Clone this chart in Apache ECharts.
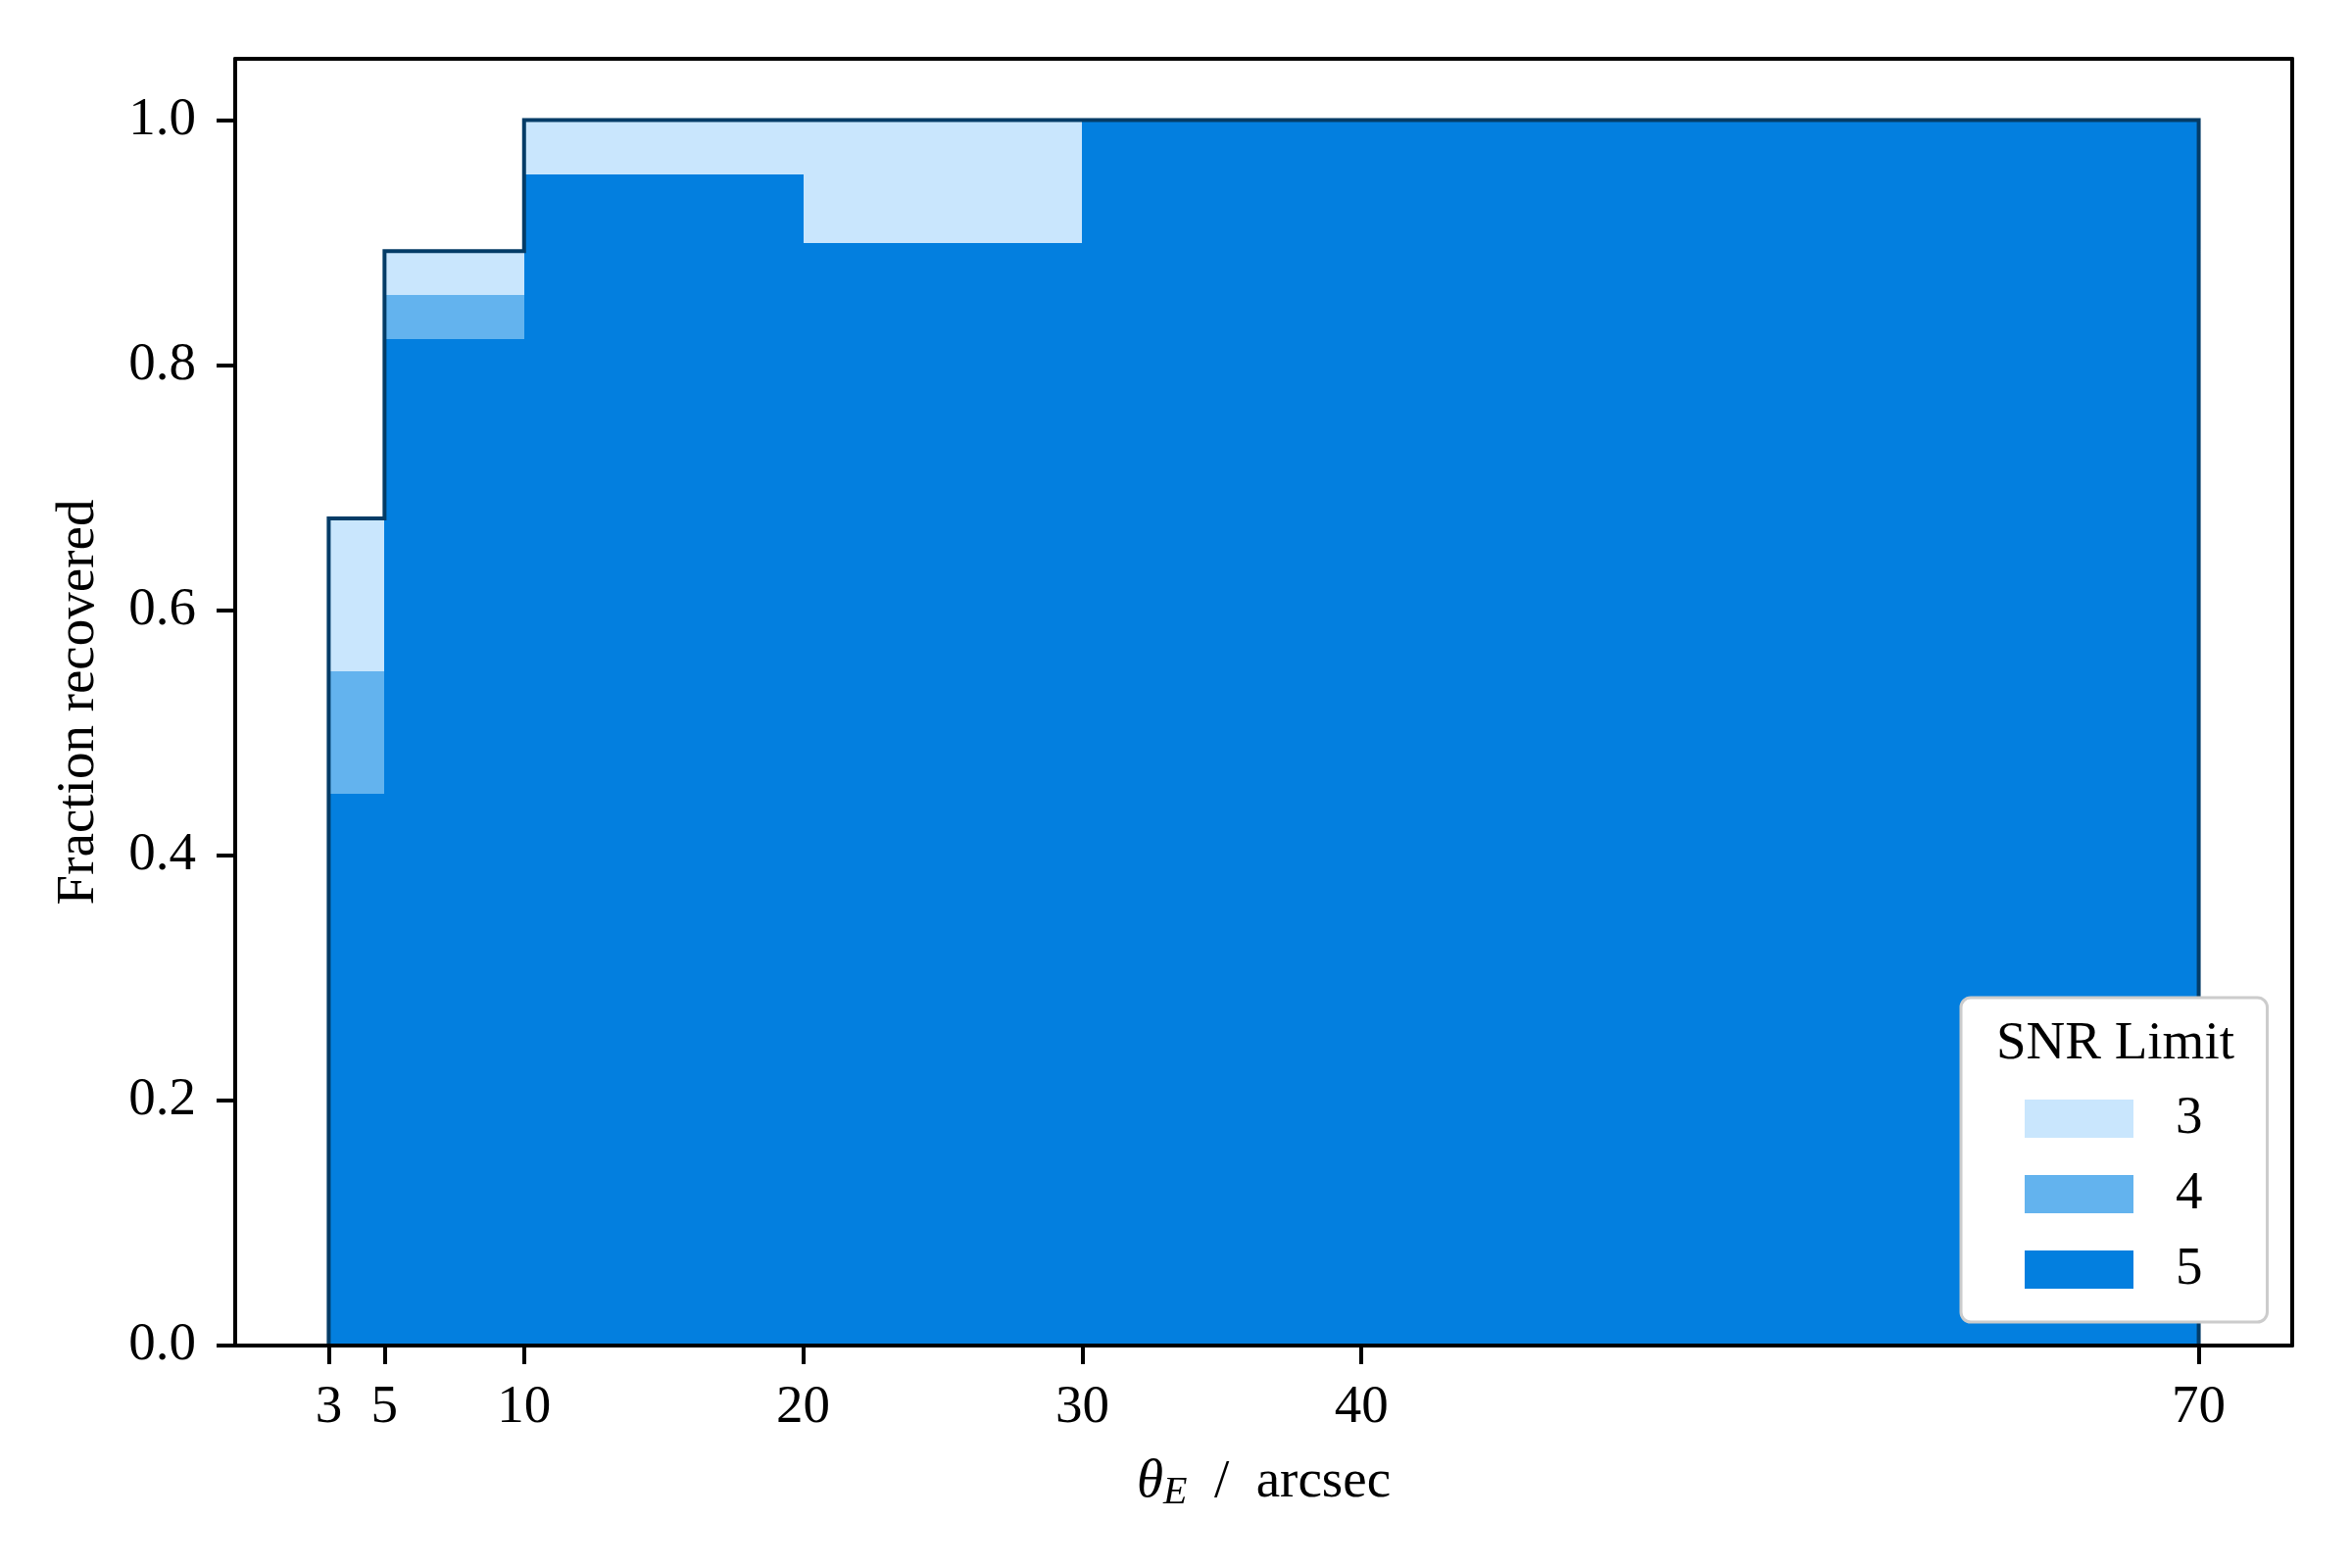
<!DOCTYPE html>
<html>
<head>
<meta charset="utf-8">
<title>Fraction recovered</title>
<script src="https://cdn.jsdelivr.net/npm/echarts@6/dist/echarts.min.js"></script>
<style>
  html, body { margin: 0; padding: 0; background: #fff; }
  #main { width: 2400px; height: 1600px; }
</style>
</head>
<body>
<div id="main"></div>
<script>
// bin edges in arcsec
var binEdges = [3, 5, 10, 20, 30, 70];
// fraction recovered per bin, for each SNR limit
var snr3 = [0.675, 0.893, 1.0, 1.0, 1.0];
var snr4 = [0.55, 0.857, 0.956, 0.9, 1.0];
var snr5 = [0.45, 0.821, 0.956, 0.9, 1.0];
var snrNames = ["3", "4", "5"];
var xTicks = [3, 5, 10, 20, 30, 40, 70];
var yTicks = [0, 0.2, 0.4, 0.6, 0.8, 1.0];

var FONT = "Liberation Serif, DejaVu Serif, serif";
var colors = ["#c9e6fd", "#63b3ee", "#037fdf"];

// [lo, hi, value] per bin
function toBins(values) {
  return values.map(function (v, i) {
    return [binEdges[i], binEdges[i + 1], v];
  });
}

// outline of the outer step histogram
function toOutline(values) {
  var pts = [[binEdges[0], 0]];
  values.forEach(function (v, i) {
    pts.push([binEdges[i], v]);
    pts.push([binEdges[i + 1], v]);
  });
  pts.push([binEdges[binEdges.length - 1], 0]);
  return pts;
}

// rounded so neighbouring bins meet without a seam
function renderBin(params, api) {
  var p0 = api.coord([api.value(0), 0]);
  var p1 = api.coord([api.value(1), api.value(2)]);
  var x0 = Math.round(p0[0]), x1 = Math.round(p1[0]);
  var y0 = Math.round(p0[1]), y1 = Math.round(p1[1]);
  return {
    type: "rect",
    shape: { x: x0, y: y1, width: x1 - x0, height: y0 - y1 },
    style: { fill: api.visual("color") },
  };
}

function histSeries(name, values, color) {
  return {
    name: name,
    type: "custom",
    renderItem: renderBin,
    encode: { x: [0, 1], y: 2 },
    itemStyle: { color: color },
    data: toBins(values),
    z: 2,
  };
}

var chart = echarts.init(document.getElementById("main"));
var axisLine = { show: true, onZero: false, lineStyle: { color: "#000", width: 4 } };

chart.setOption({
  animation: false,
  backgroundColor: "#fff",
  grid: { left: 240, right: 61, top: 60, bottom: 227, show: false },
  xAxis: [
    {
      type: "value",
      min: -0.35,
      max: 73.35,
      z: 10,
      axisLine: axisLine,
      splitLine: { show: false },
      axisTick: { customValues: xTicks, length: 19, lineStyle: { color: "#000", width: 4 } },
      axisLabel: {
        customValues: xTicks,
        fontFamily: FONT,
        fontSize: 55,
        color: "#000",
        margin: 36,
      },
      name: "{i|θ}{s|E}{n|  /  arcsec}",
      nameLocation: "middle",
      nameGap: 110,
      nameTextStyle: {
        fontFamily: FONT,
        fontSize: 55,
        color: "#000",
        rich: {
          i: { fontFamily: FONT, fontSize: 55, fontStyle: "italic", lineHeight: 60 },
          s: { fontFamily: FONT, fontSize: 40, fontStyle: "italic", lineHeight: 24, verticalAlign: "bottom" },
          n: { fontFamily: FONT, fontSize: 55, lineHeight: 60 },
        },
      },
    },
    {
      type: "value",
      position: "top",
      min: -0.35,
      max: 73.35,
      z: 10,
      axisLine: axisLine,
      axisTick: { show: false },
      axisLabel: { show: false },
      splitLine: { show: false },
    },
  ],
  yAxis: [
    {
      type: "value",
      min: 0,
      max: 1.05,
      z: 10,
      axisLine: axisLine,
      splitLine: { show: false },
      axisTick: { customValues: yTicks, length: 19, lineStyle: { color: "#000", width: 4 } },
      axisLabel: {
        customValues: yTicks,
        fontFamily: FONT,
        fontSize: 55,
        color: "#000",
        margin: 40,
        formatter: function (v) {
          return v.toFixed(1);
        },
      },
      name: "Fraction recovered",
      nameLocation: "middle",
      nameGap: 132,
      nameTextStyle: { fontFamily: FONT, fontSize: 55, color: "#000" },
    },
    {
      type: "value",
      position: "right",
      min: 0,
      max: 1.05,
      z: 10,
      axisLine: axisLine,
      axisTick: { show: false },
      axisLabel: { show: false },
      splitLine: { show: false },
    },
  ],
  legend: {
    orient: "vertical",
    left: 2001,
    top: 1018,
    padding: [96, 66, 26, 65],
    itemWidth: 111,
    itemHeight: 39,
    itemGap: 22,
    icon: "rect",
    backgroundColor: "#fff",
    borderColor: "#cccccc",
    borderWidth: 3,
    borderRadius: 10,
    z: 20,
    selectedMode: false,
    data: snrNames,
    textStyle: {
      fontFamily: FONT,
      fontSize: 55,
      lineHeight: 55,
      color: "#000",
      padding: [0, 0, 0, 38],
    },
  },
  graphic: [
    {
      type: "text",
      z: 30,
      left: 2157 - 120,
      top: 1038,
      style: {
        text: "SNR Limit",
        width: 240,
        align: "center",
        fontFamily: FONT,
        fontSize: 55,
        fill: "#000",
      },
    },
  ],
  series: [
    histSeries(snrNames[0], snr3, colors[0]),
    histSeries(snrNames[1], snr4, colors[1]),
    histSeries(snrNames[2], snr5, colors[2]),
    {
      type: "line",
      data: toOutline(snr3),
      symbol: "none",
      silent: true,
      z: 5,
      lineStyle: { color: "#043c67", width: 4, join: "miter" },
    },
  ],
});
</script>
</body>
</html>
